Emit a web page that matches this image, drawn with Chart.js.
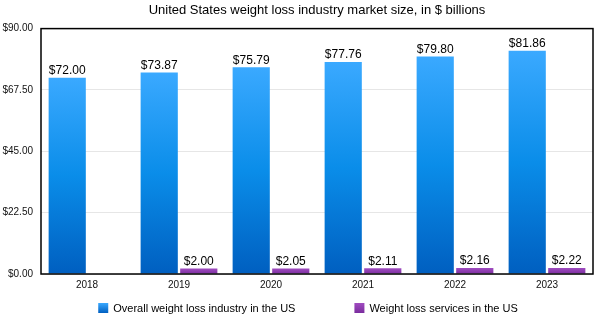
<!DOCTYPE html>
<html>
<head>
<meta charset="utf-8">
<script src="https://cdn.jsdelivr.net/npm/chart.js@4/dist/chart.umd.min.js"></script>
<style>
  html, body { margin: 0; padding: 0; background: #fff; }
  #wrap { width: 595px; height: 315px; }
</style>
</head>
<body>
<div id="wrap"><canvas id="c" width="595" height="315"></canvas></div>
<script>
const categories = ['2018', '2019', '2020', '2021', '2022', '2023'];
const overallIndustry = [72.00, 73.87, 75.79, 77.76, 79.80, 81.86];
const weightLossServices = [null, 2.00, 2.05, 2.11, 2.16, 2.22];
const seriesNames = ['Overall weight loss industry in the US', 'Weight loss services in the US'];
const yTicks = [0, 22.5, 45, 67.5, 90];
const chartTitle = 'United States weight loss industry market size, in $ billions';

const FONT = '"Liberation Sans", Arial, Helvetica, sans-serif';

const palettes = [
  { top: '#3aa9ff', mid: '#0a8de9', bottom: '#005fc0', flat: '#1a90ea' },
  { top: '#a04cc0', mid: '#8e3db0', bottom: '#7a2c9e', flat: '#8e3db0' }
];

function barGradient(idx) {
  return function (ctx) {
    const chart = ctx.chart;
    const p = palettes[idx];
    if (ctx.type !== 'data' || !chart.chartArea || !chart.scales.y) return p.flat;
    const v = ctx.raw;
    if (v == null) return p.flat;
    const yScale = chart.scales.y;
    const yTop = yScale.getPixelForValue(v);
    const yBot = yScale.getPixelForValue(0);
    if (!isFinite(yTop) || !isFinite(yBot) || yTop === yBot) return p.flat;
    const g = chart.ctx.createLinearGradient(0, yTop, 0, yBot);
    g.addColorStop(0, p.top);
    g.addColorStop(0.5, p.mid);
    g.addColorStop(1, p.bottom);
    return g;
  };
}

const fmt = v => '$' + Number(v).toFixed(2);

const frameAndLabels = {
  id: 'frameAndLabels',
  afterDatasetsDraw(chart) {
    const { ctx, chartArea } = chart;
    ctx.save();
    ctx.font = '12px ' + FONT;
    ctx.fillStyle = '#000';
    ctx.textAlign = 'center';
    ctx.textBaseline = 'bottom';
    chart.data.datasets.forEach((ds, i) => {
      const meta = chart.getDatasetMeta(i);
      meta.data.forEach((el, j) => {
        const v = ds.data[j];
        if (v == null) return;
        ctx.fillText(fmt(v), el.x, el.y - 1);
      });
    });
    ctx.strokeStyle = '#000';
    ctx.lineWidth = 1.5;
    ctx.strokeRect(chartArea.left, chartArea.top, chartArea.right - chartArea.left, chartArea.bottom - chartArea.top);
    ctx.restore();
  }
};

const customLegend = {
  id: 'customLegend',
  afterDraw(chart) {
    const { ctx } = chart;
    ctx.save();
    ctx.font = '11px ' + FONT;
    ctx.textBaseline = 'middle';
    ctx.textAlign = 'left';
    const box = 10, gapText = 5, gapItems = 59;
    const widths = seriesNames.map(n => box + gapText + ctx.measureText(n).width);
    const total = widths.reduce((a, b) => a + b, 0) + gapItems * (widths.length - 1);
    let x = (chart.chartArea.left + chart.chartArea.right) / 2 - total / 2 - 9;
    const y = chart.height - 7;
    seriesNames.forEach((n, i) => {
      const p = palettes[i];
      const g = ctx.createLinearGradient(0, y - box / 2, 0, y + box / 2);
      g.addColorStop(0, p.top);
      g.addColorStop(1, p.bottom);
      ctx.fillStyle = g;
      ctx.fillRect(x, y - box / 2, box, box);
      ctx.fillStyle = '#000';
      ctx.fillText(n, x + box + gapText, y + 0.5);
      x += widths[i] + gapItems;
    });
    ctx.restore();
  }
};

new Chart(document.getElementById('c'), {
  type: 'bar',
  data: {
    labels: categories,
    datasets: [
      { label: seriesNames[0], data: overallIndustry, backgroundColor: barGradient(0), borderWidth: 0,
        categoryPercentage: 0.86, barPercentage: 0.94 },
      { label: seriesNames[1], data: weightLossServices, backgroundColor: barGradient(1), borderWidth: 0,
        categoryPercentage: 0.86, barPercentage: 0.94 }
    ]
  },
  options: {
    responsive: false,
    animation: false,
    devicePixelRatio: 1,
    layout: { padding: { left: 0, right: 2, top: 0, bottom: 20 } },
    plugins: {
      legend: { display: false },
      tooltip: { enabled: false },
      title: {
        display: true,
        fullSize: false,
        text: chartTitle,
        color: '#000',
        font: { family: FONT, size: 13, weight: 'normal' },
        padding: { top: 3, bottom: 10 }
      }
    },
    scales: {
      x: {
        grid: { display: false, drawTicks: false },
        border: { display: false },
        ticks: { color: '#111', font: { family: FONT, size: 10 }, padding: 5 },
        afterFit(scale) { scale.height = 21; }
      },
      y: {
        min: 0, max: 90,
        afterBuildTicks(scale) { scale.ticks = yTicks.map(v => ({ value: v })); },
        grid: { color: '#e6e6e6', drawTicks: false },
        border: { display: false },
        ticks: { color: '#111', font: { family: FONT, size: 10 }, padding: 8,
          callback: v => fmt(v) },
        afterFit(scale) { scale.width = 41; }
      }
    }
  },
  plugins: [frameAndLabels, customLegend]
});
</script>
</body>
</html>
